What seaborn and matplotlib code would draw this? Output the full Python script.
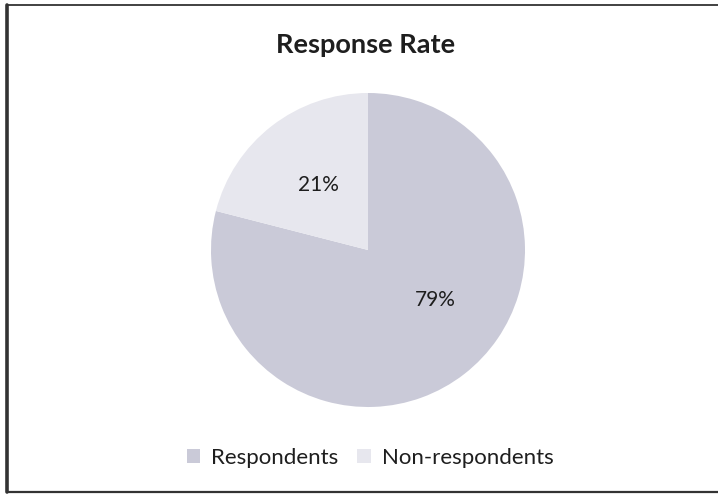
import matplotlib
matplotlib.use("Agg")
import matplotlib.pyplot as plt
import seaborn as sns
from matplotlib.lines import Line2D
from matplotlib.patches import Patch

categories = ["Respondents", "Non-respondents"]
values = [79, 21]
colors = ["#cacad8", "#e7e7ee"]

sns.set_style("white")
plt.rcParams["font.family"] = ["Lato", "DejaVu Sans"]

W, H = 718, 494
fig = plt.figure(figsize=(W / 100, H / 100), dpi=100)
fig.patch.set_facecolor("white")

cx, cy, r = 368, 250, 157
ax = fig.add_axes([(cx - r) / W, (H - cy - r) / H, 2 * r / W, 2 * r / H])
wedges, texts, autotexts = ax.pie(
    values, colors=colors, startangle=90, counterclock=False,
    autopct=lambda p: f"{p:.0f}%", pctdistance=0.52,
    textprops=dict(fontsize=15, color="#1e1e1e"),
    wedgeprops=dict(linewidth=0),
)
autotexts[0].set_position((0.43, -0.32))
ax.set_xlim(-1, 1)
ax.set_ylim(-1, 1)
ax.set_aspect("equal")
ax.axis("off")

fig.text(366 / W, 1 - 45 / H, "Response Rate", ha="center", va="center",
         fontsize=19.5, fontweight="bold", color="#1e1e1e")

handles = [Patch(facecolor=c, edgecolor="none") for c in colors]
fig.legend(handles, categories, loc="center", bbox_to_anchor=(370 / W, 1 - 458 / H),
           ncol=2, frameon=False, fontsize=16, handlelength=0.6, handleheight=0.6,
           handletextpad=0.5, columnspacing=0.85, labelcolor="#1e1e1e")

# frame lines
fig.add_artist(Line2D([6.5 / W, 6.5 / W], [1 - 5 / H, 1 - 492 / H], transform=fig.transFigure,
                      color="#333333", linewidth=2.6))
fig.add_artist(Line2D([6.5 / W, 1.0], [1 - 5 / H, 1 - 5 / H], transform=fig.transFigure,
                      color="#333333", linewidth=1.3))
fig.add_artist(Line2D([6.5 / W, 1.0], [1 - 492 / H, 1 - 492 / H], transform=fig.transFigure,
                      color="#333333", linewidth=1.6))

fig.savefig("out.png", dpi=100)
